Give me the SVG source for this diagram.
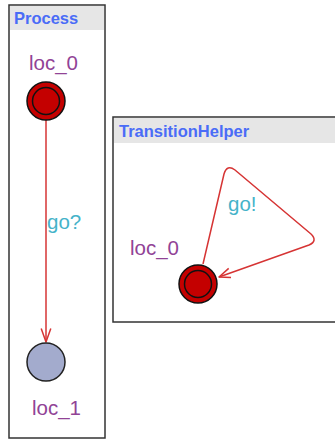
<svg xmlns="http://www.w3.org/2000/svg" width="335" height="440" viewBox="0 0 335 440">
<style>
.frame{fill:#ffffff;stroke:#333333;stroke-width:1.5}
.bar{fill:#e6e6e6}
.title{font-family:"Liberation Sans",Arial,sans-serif;font-weight:bold;font-size:16.5px;fill:#4a6cf7}
.name{font-family:"Liberation Sans",Arial,sans-serif;font-size:20.5px;fill:#914396}
.sync{font-family:"Liberation Sans",Arial,sans-serif;font-size:20.5px;fill:#45b3c9}
.init{fill:#c40000;stroke:#111111;stroke-width:1.5}
.loc{fill:#a3abcd;stroke:#222222;stroke-width:1.5}
.edge{fill:none;stroke:#d63434;stroke-width:1.5;stroke-linejoin:round}
</style>
<g id="Process">
<rect class="frame" x="9" y="5" width="96" height="433"/>
<rect class="bar" x="10" y="6" width="94" height="24"/>
<text class="title" x="14" y="24">Process</text>
</g>
<g id="TransitionHelper">
<rect class="frame" x="113" y="117" width="230" height="205"/>
<rect class="bar" x="114" y="118" width="222" height="25"/>
<text class="title" x="119" y="137">TransitionHelper</text>
</g>
<g id="connectors">
<g id="edge-process">
<path class="edge" d="M46,120 L46,342"/>
<path class="edge" d="M41.2,328.5 L46,342 L50.8,328.5"/>
<text class="sync" x="47" y="229">go?</text>
</g>
<g id="edge-helper">
<path class="edge" d="M203,264 L224,174 Q227,164 235,170 L311,234 Q318,241 309,245 L219,277"/>
<path class="edge" d="M231,277.6 L219,277 L228.7,268.4"/>
<text class="sync" x="228" y="211">go!</text>
</g>
</g>
<g id="process-loc_0">
<circle class="init" cx="46" cy="101" r="19"/>
<circle fill="none" stroke="#111111" stroke-width="1.5" cx="46" cy="101" r="13.5"/>
<text class="name" x="29" y="70">loc_0</text>
</g>
<g id="process-loc_1">
<circle class="loc" cx="46" cy="362" r="19"/>
<text class="name" x="32" y="415">loc_1</text>
</g>
<g id="helper-loc_0">
<circle class="init" cx="198" cy="284" r="19"/>
<circle fill="none" stroke="#111111" stroke-width="1.5" cx="198" cy="284" r="13.5"/>
<text class="name" x="130" y="255">loc_0</text>
</g>
</svg>
